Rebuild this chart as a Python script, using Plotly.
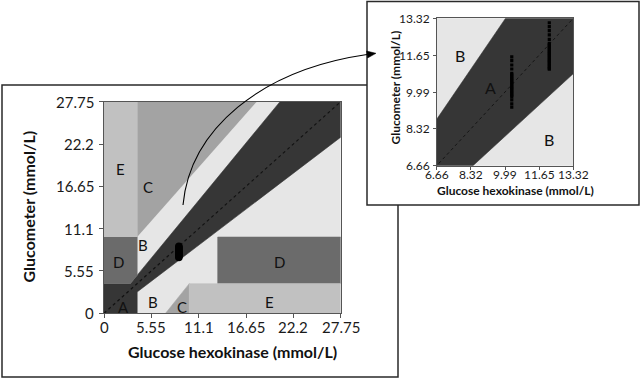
import plotly.graph_objects as go

W, H = 642, 378

# ---------------- data ----------------
ticks_main = [0, 5.55, 11.1, 16.65, 22.2, 27.75]
ticks_main_text = ["0", "5.55", "11.1", "16.65", "22.2", "27.75"]
ticks_inset = [6.66, 8.32, 9.99, 11.65, 13.32]
ticks_inset_text = ["6.66", "8.32", "9.99", "11.65", "13.32"]

# zone polygons (mmol/L)
zone_A_x = [0, 0, 3.08, 20.63, 27.75, 27.75, 3.89, 3.89]
zone_A_y = [0, 3.89, 3.89, 27.75, 27.75, 23.09, 2.8, 0]
zone_B_up_x = [3.89, 3.89, 17.9, 20.63]
zone_B_up_y = [4.99, 10, 27.75, 27.75]
zone_B_lo_x = [3.89, 3.89, 27.75, 27.75, 13.33, 13.33, 10, 7.22]
zone_B_lo_y = [0, 2.8, 23.09, 10, 10, 3.89, 3.89, 0]
zone_C_up_x = [3.89, 3.89, 17.9]
zone_C_up_y = [10, 27.75, 27.75]
zone_C_lo_x = [7.22, 10, 10]
zone_C_lo_y = [0, 3.89, 0]
zone_D_left_x = [0, 0, 3.89, 3.89, 3.08]
zone_D_left_y = [3.89, 10, 10, 4.99, 3.89]
zone_D_right_x = [13.33, 13.33, 27.75, 27.75]
zone_D_right_y = [3.89, 10, 10, 3.89]
zone_E_up_x = [0, 0, 3.89, 3.89]
zone_E_up_y = [10, 27.75, 27.75, 10]
zone_E_lo_x = [10, 10, 27.75, 27.75]
zone_E_lo_y = [0, 3.89, 3.89, 0]

identity_line = [0, 27.75]

# main chart measurement cloud
main_pts_x = [8.78] * 12
main_pts_y = [7.32, 7.45, 7.58, 7.72, 7.85, 7.98, 8.12, 8.25, 8.38, 8.52, 8.66, 8.80]

# inset measurements (two reference levels)
inset_col1_y = [11.58, 11.41, 11.21, 11.03, 10.83, 10.76, 10.69, 10.62, 10.55, 10.48,
                10.41, 10.34, 10.27, 10.20, 10.13, 10.06, 9.99, 9.92, 9.85, 9.78,
                9.63, 9.45, 9.30]
inset_col1_x = [10.32] * len(inset_col1_y)
inset_col2_y = [13.12, 12.94, 12.76, 12.57, 12.37, 12.19, 12.12, 12.05, 11.98, 11.91,
                11.84, 11.77, 11.70, 11.63, 11.56, 11.49, 11.42, 11.35, 11.28, 11.21,
                11.14, 11.07, 11.02]
inset_col2_x = [12.15] * len(inset_col2_y)

main_labels = [("E", 1.88, 18.9), ("C", 5.2, 16.6), ("B", 4.6, 8.96), ("D", 1.68, 6.77),
               ("A", 2.34, 0.87), ("B", 5.78, 1.52), ("C", 9.18, 0.87), ("E", 19.46, 1.52),
               ("D", 20.55, 6.77)]
inset_labels = [("B", 7.8, 11.62), ("A", 9.29, 10.2), ("B", 12.15, 7.85)]

# ---------------- style ----------------
COL = {"A": "#363636", "B": "#e6e6e6", "C": "#a3a3a3", "D": "#6b6b6b", "E": "#c1c1c1"}
FONT = "Lato"
TXT = "#1a1a1a"

def px(x):
    return x / W

def py(y):
    return 1 - y / H

zones = [
    (zone_B_lo_x, zone_B_lo_y, "B"), (zone_B_up_x, zone_B_up_y, "B"),
    (zone_A_x, zone_A_y, "A"),
    (zone_C_up_x, zone_C_up_y, "C"), (zone_C_lo_x, zone_C_lo_y, "C"),
    (zone_D_left_x, zone_D_left_y, "D"), (zone_D_right_x, zone_D_right_y, "D"),
    (zone_E_up_x, zone_E_up_y, "E"), (zone_E_lo_x, zone_E_lo_y, "E"),
]

fig = go.Figure()
for xa, ya in [("x", "y"), ("x2", "y2")]:
    for zx, zy, z in zones:
        fig.add_trace(go.Scatter(x=zx, y=zy, fill="toself", mode="lines",
                                 fillcolor=COL[z], line=dict(color=COL[z], width=0.6),
                                 hoverinfo="skip", xaxis=xa, yaxis=ya))

fig.add_trace(go.Scatter(x=identity_line, y=identity_line, mode="lines",
                         line=dict(color="#111111", width=1.2, dash="dot"),
                         xaxis="x", yaxis="y"))
fig.add_trace(go.Scatter(x=identity_line, y=identity_line, mode="lines",
                         line=dict(color="#151515", width=1, dash="dot"),
                         xaxis="x2", yaxis="y2"))

fig.add_trace(go.Scatter(x=main_pts_x, y=main_pts_y, mode="markers",
                         marker=dict(color="black", size=7.5, symbol="circle"),
                         xaxis="x", yaxis="y"))
fig.add_trace(go.Scatter(x=inset_col1_x + inset_col2_x, y=inset_col1_y + inset_col2_y,
                         mode="markers",
                         marker=dict(color="black", size=3.2, symbol="square"),
                         xaxis="x2", yaxis="y2"))

axis_common = dict(showline=True, mirror=True, linecolor="#555555", linewidth=1,
                   ticks="outside", tickcolor="#555555", showgrid=False,
                   zeroline=False, tickmode="array", fixedrange=True,
                   automargin=False, showticklabels=False)

fig.update_layout(
    width=W, height=H, margin=dict(l=0, r=0, t=0, b=0, autoexpand=False),
    paper_bgcolor="white", plot_bgcolor="rgba(0,0,0,0)", showlegend=False,
    xaxis=dict(domain=[px(104), px(340.7)], range=[0, 27.75], tickvals=ticks_main,
               ticklen=4, anchor="y", **axis_common),
    yaxis=dict(domain=[py(313.3), py(101.7)], range=[0, 27.75], tickvals=ticks_main,
               ticklen=4, anchor="x", **axis_common),
    xaxis2=dict(domain=[px(436.7), px(573.3)], range=[6.66, 13.32], tickvals=ticks_inset,
                ticklen=3, anchor="y2", **axis_common),
    yaxis2=dict(domain=[py(165.7), py(18.3)], range=[6.66, 13.32], tickvals=ticks_inset,
                ticklen=3, anchor="x2", **axis_common),
)

shapes = [
    dict(type="rect", xref="paper", yref="paper", x0=px(2), x1=px(398), y0=py(377), y1=py(85),
         line=dict(color="#2a2a2a", width=1.5), fillcolor="white", layer="below"),
    dict(type="rect", xref="paper", yref="paper", x0=px(367), x1=px(639), y0=py(205), y1=py(1.5),
         line=dict(color="#2a2a2a", width=1.5), fillcolor="white", layer="below"),
]

# curved arrow from main cloud to inset
p0, p1, p2, p3 = (183, 205), (190, 130), (260, 70), (367, 54.5)
path = "M {},{} C {},{} {},{} {},{}".format(px(p0[0]), py(p0[1]), px(p1[0]), py(p1[1]),
                                          px(p2[0]), py(p2[1]), px(p3[0]), py(p3[1]))
shapes.append(dict(type="path", xref="paper", yref="paper", path=path,
                   line=dict(color="black", width=1.1), layer="above"))
tip, b1, b2 = (376, 53.3), (367.6, 58.0), (366.6, 51.0)
head = "M {},{} L {},{} L {},{} Z".format(px(tip[0]), py(tip[1]), px(b1[0]), py(b1[1]),
                                          px(b2[0]), py(b2[1]))
shapes.append(dict(type="path", xref="paper", yref="paper", path=head,
                   line=dict(color="black", width=0.5), fillcolor="black", layer="above"))
fig.update_layout(shapes=shapes)

ann = []
# zone letters
for t, x, y in main_labels:
    ann.append(dict(text=t, x=x, y=y, xref="x", yref="y", showarrow=False,
                    font=dict(family=FONT, size=15, color="#111111")))
for t, x, y in inset_labels:
    ann.append(dict(text=t, x=x, y=y, xref="x2", yref="y2", showarrow=False,
                    font=dict(family=FONT, size=16, color="#111111")))

# tick labels placed tight to the axes
for v, t in zip(ticks_main, ticks_main_text):
    ann.append(dict(text=t, x=v, xref="x", y=py(326.5), yref="paper", showarrow=False,
                    xanchor="center", yanchor="middle",
                    font=dict(family=FONT, size=15, color=TXT)))
    ann.append(dict(text=t, x=px(96), xref="paper", y=v, yref="y", showarrow=False,
                    xanchor="right", yanchor="middle",
                    font=dict(family=FONT, size=15, color=TXT)))
for v, t in zip(ticks_inset, ticks_inset_text):
    ann.append(dict(text=t, x=v, xref="x2", y=py(174.5), yref="paper", showarrow=False,
                    xanchor="center", yanchor="middle",
                    font=dict(family=FONT, size=12, color=TXT)))
    ann.append(dict(text=t, x=px(432), xref="paper", y=v, yref="y2", showarrow=False,
                    xanchor="right", yanchor="middle",
                    font=dict(family=FONT, size=12, color=TXT)))

# axis titles
ann.append(dict(text="<b>Glucose hexokinase (mmol/L)</b>", x=px(232.5), y=py(351),
                xref="paper", yref="paper", showarrow=False, xanchor="center", yanchor="middle",
                font=dict(family=FONT, size=16, color="#111111")))
ann.append(dict(text="<b>Glucometer (mmol/L)</b>", x=px(28), y=py(206.5),
                xref="paper", yref="paper", showarrow=False, textangle=-90,
                xanchor="center", yanchor="middle",
                font=dict(family=FONT, size=16, color="#111111")))
ann.append(dict(text="<b>Glucose hexokinase (mmol/L)</b>", x=px(515.5), y=py(190.5),
                xref="paper", yref="paper", showarrow=False, xanchor="center", yanchor="middle",
                font=dict(family=FONT, size=12, color="#111111")))
ann.append(dict(text="<b>Glucometer (mmol/L)</b>", x=px(394.5), y=py(88),
                xref="paper", yref="paper", showarrow=False, textangle=-90,
                xanchor="center", yanchor="middle",
                font=dict(family=FONT, size=12, color="#111111")))
fig.update_layout(annotations=ann)

fig.write_html("out.html", config={"displayModeBar": False, "staticPlot": True},
               post_script="document.body.style.margin='0px';")
